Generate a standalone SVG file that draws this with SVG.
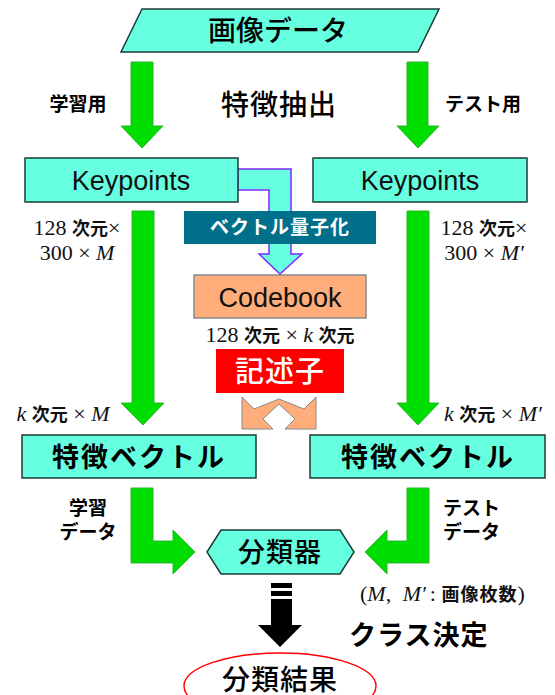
<svg xmlns="http://www.w3.org/2000/svg" width="555" height="695" viewBox="0 0 555 695">
<style>
.aq{fill:#66FFE0;stroke:#1d3b36;stroke-width:1.5}
.gr{fill:#00DD00;stroke:#2FB52F;stroke-width:1}
.jp{font-family:"Liberation Sans","Noto Sans CJK JP",sans-serif;fill:#000}
.big{font-size:28px;font-weight:500}
.bold{font-weight:bold}
.lab{font-size:19px;font-weight:bold}
.kp{font-family:"Liberation Sans","Noto Sans CJK JP",sans-serif;font-size:27px;fill:#111}
.m{font-family:"Liberation Serif",serif;font-size:22px;fill:#111}
.mj{font-family:"Noto Sans CJK JP",sans-serif;font-weight:bold;font-size:18px}
.it{font-style:italic}
</style>
<g id="connectors">
<polygon class="gr" points="131,62 153,62 153,126 163,126 142,148 121,126 131,126"/>
<polygon class="gr" points="407,62 428,62 428,126 439,126 418,148 397,126 407,126"/>
<polygon fill="#66FFE0" stroke="#7B2BFF" stroke-width="1.5" points="238,169 291,169 291,254 302,254 280,274 259,254 269,254 269,190 238,190"/>
<polygon class="gr" points="132,211 154,211 154,403 164,403 143,425 121,403 132,403"/>
<polygon class="gr" points="407,211 429,211 429,403 439,403 418,425 397,403 407,403"/>
<polygon fill="#FFAD7A" stroke="#8a8a8a" stroke-width="1" points="242,397 254,409 279,399 304,409 316,397 316,429 285,429 295,419 279,404 263,419 273,429 242,429"/>
<polygon class="gr" points="131,488 153,488 153,541 173,541 173,530 195,552 173,574 173,563 131,563"/>
<polygon class="gr" points="429,488 407,488 407,541 387,541 387,530 365,552 387,574 387,563 429,563"/>
<rect x="271" y="583" width="21" height="5" fill="#000"/>
<rect x="271" y="591" width="21" height="5" fill="#000"/>
<polygon fill="#000" points="271,599 292,599 292,625 302,625 280,647 258,625 271,625"/>
</g>
<g id="gazou">
<polygon class="aq" points="142,9 439,9 418,52 121,52"/>
<text class="jp big" x="278" y="41" text-anchor="middle">画像データ</text>
</g>
<g id="labels-top">
<text class="jp lab" x="78" y="111" text-anchor="middle">学習用</text>
<text class="jp big" x="279" y="115" text-anchor="middle" letter-spacing="1">特徴抽出</text>
<text class="jp lab" x="483" y="111" text-anchor="middle">テスト用</text>
</g>
<g id="kp-left">
<rect class="aq" x="25" y="158" width="213" height="44"/>
<text class="kp" x="131" y="190" text-anchor="middle">Keypoints</text>
</g>
<g id="kp-right">
<rect class="aq" x="313" y="158" width="214" height="44"/>
<text class="kp" x="420" y="190" text-anchor="middle">Keypoints</text>
</g>
<g id="vq">
<rect x="184" y="211" width="192" height="33" fill="#006F8A"/>
<text class="jp bold" x="280" y="234" font-size="19" style="fill:#fff" text-anchor="middle" letter-spacing="1">ベクトル量子化</text>
</g>
<g id="dims-left">
<text class="m" x="77" y="235" text-anchor="middle">128 <tspan class="mj">次元</tspan>×</text>
<text class="m" x="77" y="260" text-anchor="middle">300 × <tspan class="it">M</tspan></text>
</g>
<g id="dims-right">
<text class="m" x="484" y="235" text-anchor="middle">128 <tspan class="mj">次元</tspan>×</text>
<text class="m" x="484" y="260" text-anchor="middle">300 × <tspan class="it">M′</tspan></text>
</g>
<g id="codebook">
<rect x="194" y="275" width="172" height="43" fill="#FFAD7A" stroke="#8a8a8a" stroke-width="1.5"/>
<text class="kp" x="280" y="307" text-anchor="middle">Codebook</text>
<text class="m" x="280" y="342" text-anchor="middle">128 <tspan class="mj">次元</tspan> × <tspan class="it">k</tspan> <tspan class="mj">次元</tspan></text>
</g>
<g id="kijutsushi">
<rect x="216" y="349" width="128" height="44" fill="#FF0000"/>
<text class="jp" x="280" y="382" font-size="29" font-weight="500" style="fill:#fff" text-anchor="middle" letter-spacing="1">記述子</text>
</g>
<g id="dims-k">
<text class="m" x="63" y="421" text-anchor="middle"><tspan class="it">k</tspan> <tspan class="mj">次元</tspan> × <tspan class="it">M</tspan></text>
<text class="m" x="444" y="421"><tspan class="it">k</tspan> <tspan class="mj">次元</tspan> × <tspan class="it">M′</tspan></text>
</g>
<g id="fv-left">
<rect class="aq" x="22" y="435" width="234" height="43"/>
<text class="jp bold" x="139" y="467" font-size="27" text-anchor="middle" letter-spacing="2">特徴ベクトル</text>
</g>
<g id="fv-right">
<rect class="aq" x="310" y="435" width="235" height="43"/>
<text class="jp bold" x="428" y="467" font-size="27" text-anchor="middle" letter-spacing="2">特徴ベクトル</text>
</g>
<g id="labels-data">
<text class="jp lab" x="88" y="515" text-anchor="middle">学習</text>
<text class="jp lab" x="88" y="539" text-anchor="middle">データ</text>
<text class="jp lab" x="443" y="515">テスト</text>
<text class="jp lab" x="443" y="539">データ</text>
</g>
<g id="classifier">
<polygon class="aq" points="207,552 221,530 340,530 354,552 340,574 221,574"/>
<text class="jp" x="280" y="562" font-size="27" font-weight="500" text-anchor="middle" letter-spacing="1">分類器</text>
</g>
<g id="note">
<text class="m" x="360" y="601" font-size="23">(<tspan class="it">M</tspan>, <tspan class="it" dx="6">M′</tspan><tspan dx="4">:</tspan> <tspan class="mj" font-size="21" letter-spacing="1">画像枚数</tspan>)</text>
</g>
<g id="class-decision">
<text class="jp bold" x="349" y="645" font-size="27" letter-spacing="1">クラス決定</text>
</g>
<g id="result">
<ellipse cx="280" cy="686" rx="96" ry="33" fill="#fff" stroke="#FF0000" stroke-width="1.5"/>
<text class="jp" x="280" y="690" font-size="28" font-weight="500" text-anchor="middle" letter-spacing="1">分類結果</text>
</g>
</svg>
